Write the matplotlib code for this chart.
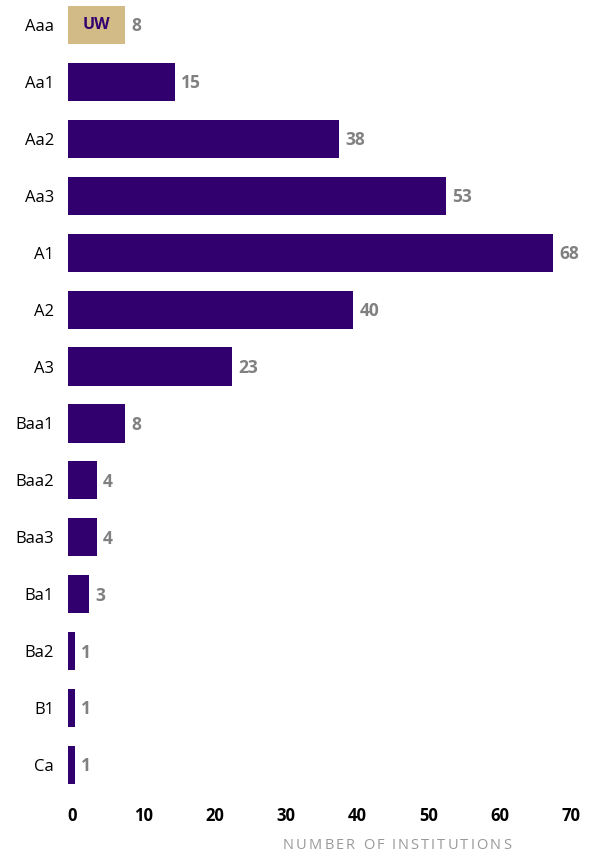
import matplotlib.pyplot as plt
import matplotlib.transforms as mtransforms

plt.rcParams['font.family'] = ['Open Sans', 'DejaVu Sans']

# ratings and number of institutions
ratings = ["Aaa", "Aa1", "Aa2", "Aa3", "A1", "A2", "A3",
           "Baa1", "Baa2", "Baa3", "Ba1", "Ba2", "B1", "Ca"]
counts = [8, 15, 38, 53, 68, 40, 23, 8, 4, 4, 3, 1, 1, 1]
ticks = [0, 10, 20, 30, 40, 50, 60, 70]
xlabel = "NUMBER OF INSTITUTIONS"

purple = "#32006e"
gold = "#d3bb88"
grey = "#808080"

fig = plt.figure(figsize=(5.99, 8.55), dpi=100)
ax = fig.add_axes([68 / 599, 1 - 790 / 855, (567 - 68) / 599, 790 / 855])

colors = [gold] + [purple] * (len(ratings) - 1)
ypos = list(range(len(ratings)))
ax.barh(ypos, counts, height=0.67, color=colors)

for y, v in zip(ypos, counts):
    ax.annotate(str(v), (v, y), xytext=(4.5, -1), textcoords="offset points",
                ha="left", va="center", fontsize=12.5, fontweight="bold", color=grey)

# label inside the highlighted bar
ax.text(counts[0] / 2, 0, "UW", ha="center", va="center", fontsize=11.5,
        fontweight="bold", color=purple)

ax.set_xlim(0, 70)
ax.set_ylim(13.44, -0.44)
ax.set_yticks(ypos)
ax.set_yticklabels(ratings, fontsize=12)
ax.set_xticks(ticks)
ax.set_xticklabels([str(t) for t in ticks], fontsize=12, fontweight="bold")
ax.tick_params(axis="both", length=0)
ax.tick_params(axis="y", pad=10)
ax.tick_params(axis="x", pad=12)
shift = mtransforms.ScaledTranslation(4 / 100, 0, fig.dpi_scale_trans)
for lab in ax.get_xticklabels():
    lab.set_transform(lab.get_transform() + shift)
for s in ax.spines.values():
    s.set_visible(False)

# letter-spaced axis title, spread between x=283 and x=511 px
renderer = fig.canvas.get_renderer()
parts = []
for ch in xlabel:
    t = fig.text(0, 1 - 845 / 855, ch, ha="left", va="center", fontsize=10.5, color="#999999")
    parts.append(t)
widths = [t.get_window_extent(renderer).width if ch != " " else 3.5 for t, ch in zip(parts, xlabel)]
gap = (511 - 283 - sum(widths)) / (len(xlabel) - 1)
x = 283
for t, w in zip(parts, widths):
    t.set_x(x / 599)
    x += w + gap

fig.savefig("out.png", dpi=100)
